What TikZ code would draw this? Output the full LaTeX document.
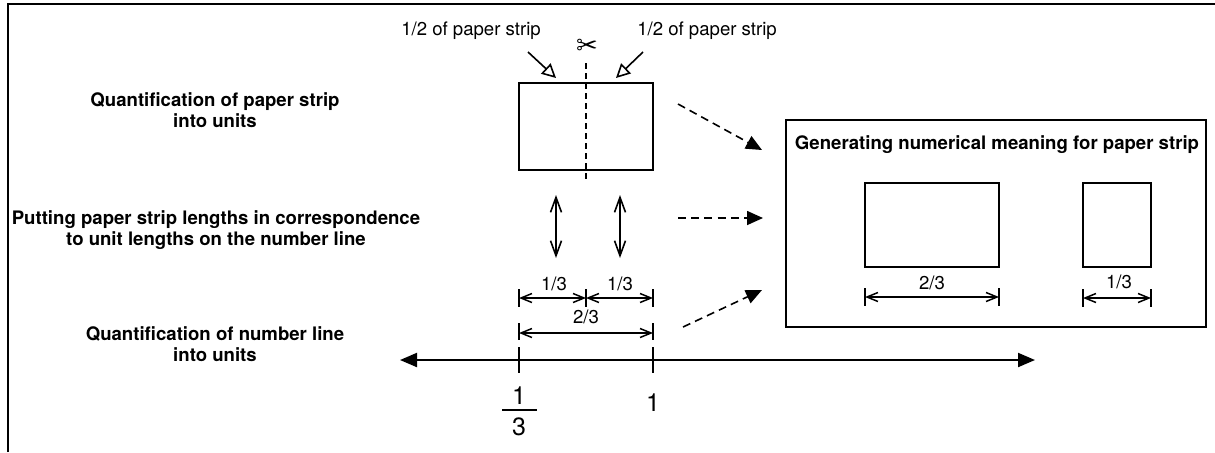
\documentclass[tikz,border=0pt]{standalone}
\usepackage{fontspec}
\setmainfont{TeX Gyre Heros}
\newfontfamily\symfont{DejaVu Sans}
\usetikzlibrary{arrows.meta}

\begin{document}
\begin{tikzpicture}[x=0.5pt,y=-0.5pt,
  txt/.style={font=\fontsize{9.3}{10.5}\selectfont, inner sep=0pt},
  head/.style={font=\fontsize{9.3}{10.5}\selectfont\bfseries, align=center, inner sep=0pt},
  num/.style={font=\fontsize{12.5}{13}\selectfont, inner sep=0pt},
  frameline/.style={line width=1.2pt},
  strip/.style={draw, line width=0.8pt, inner sep=0pt},
  cut/.style={line width=0.75pt, dash pattern=on 3pt off 2pt},
  hollow/.style={line width=0.8pt, -{Triangle[open,length=7pt,width=7pt]}},
  dimline/.style={line width=0.75pt, {Straight Barb[length=5.5pt,width=4.5pt]}-{Straight Barb[length=5.5pt,width=4.5pt]}},
  corr/.style={line width=0.8pt, {Straight Barb[length=7.5pt,width=5.5pt]}-{Straight Barb[length=7.5pt,width=5.5pt]}},
  tickline/.style={line width=0.9pt},
  flow/.style={line width=0.8pt, dash pattern=on 4pt off 2.6pt, -{Triangle[length=8pt,width=7pt]}},
  numline/.style={line width=1pt, {Triangle[length=8.5pt,width=7pt]}-{Triangle[length=8.5pt,width=7pt]}}
]
\useasboundingbox (0,0) rectangle (1215,452);

% outer frame (top and left edges)
\coordinate (fTL) at (7.7,3.7);
\coordinate (fTR) at (1215,3.7);
\coordinate (fBL) at (7.7,452);
\draw[frameline] (fBL) -- (fTL) -- (fTR);

% row labels
\node[head] (lab1) at (215,110) {Quantification of paper strip\\into units};
\node[head] (lab2) at (216,230) {Putting paper strip lengths in correspondence\\to unit lengths on the number line};
\node[head] (lab3) at (215,344) {Quantification of number line\\into units};

% the paper strip, cut in half
\node[strip, minimum width=67pt, minimum height=43.5pt] (paper) at (586,126.5) {};
\coordinate (cutT) at (586,63);
\coordinate (cutB) at (586,181);
\draw[cut] (cutT) -- (cutB);
\node[font=\symfont\fontsize{13}{13}\selectfont, inner sep=0pt] (scis) at (587,47) {✂};

\node[txt] (halfL) at (471,31) {1/2 of paper strip};
\node[txt] (halfR) at (707,31) {1/2 of paper strip};
\coordinate (hLa) at (528,52);
\coordinate (hLb) at (556,78);
\coordinate (hRa) at (643,52);
\coordinate (hRb) at (616,78);
\draw[hollow] (hLa) -- (hLb);
\draw[hollow] (hRa) -- (hRb);

% correspondence arrows
\coordinate (c1T) at (556,195);
\coordinate (c1B) at (556,258);
\coordinate (c2T) at (620,195);
\coordinate (c2B) at (620,258);
\draw[corr] (c1T) -- (c1B);
\draw[corr] (c2T) -- (c2B);

% unit lengths
\coordinate (uA) at (519,298);
\coordinate (uM) at (586,298);
\coordinate (uB) at (653,298);
\draw[dimline] (uA) -- (uM);
\draw[dimline] (uM) -- (uB);
\foreach \p in {uA,uM,uB}
  \draw[tickline] ([yshift=4.5pt]\p) -- ([yshift=-4.5pt]\p);
\node[txt] (u1) at (554,284) {1/3};
\node[txt] (u2) at (620,284) {1/3};

\coordinate (wA) at (519,333);
\coordinate (wB) at (653,333);
\draw[dimline] (wA) -- (wB);
\foreach \p in {wA,wB}
  \draw[tickline] ([yshift=5pt]\p) -- ([yshift=-3.5pt]\p);
\node[txt] (w1) at (586,317) {2/3};

% number line
\coordinate (nL) at (400,360);
\coordinate (nR) at (1035,360);
\draw[numline] (nL) -- (nR);
\coordinate (t1) at (519,360);
\coordinate (t2) at (653,360);
\foreach \p in {t1,t2}
  \draw[tickline] ([yshift=6.5pt]\p) -- ([yshift=-6.5pt]\p);
\node[num] (fn) at (519,396) {1};
\node[num] (fd) at (519,427) {3};
\coordinate (barL) at (502,410);
\coordinate (barR) at (537,410);
\draw[line width=0.8pt] (barL) -- (barR);
\node[num] (one) at (653,403) {1};

% flows into the result panel
\coordinate (a1s) at (678,104);
\coordinate (a1e) at (762,150);
\coordinate (a2s) at (678,218);
\coordinate (a2e) at (763,218);
\coordinate (a3s) at (683,327);
\coordinate (a3e) at (762,290);
\draw[flow] (a1s) -- (a1e);
\draw[flow] (a2s) -- (a2e);
\draw[flow] (a3s) -- (a3e);

% result panel
\node[strip, minimum width=210pt, minimum height=103.5pt] (panel) at (996,223.5) {};
\node[head] (ptitle) at (997,145) {Generating numerical meaning for paper strip};
\node[strip, minimum width=67pt, minimum height=42pt] (big) at (932,225) {};
\node[strip, minimum width=34pt, minimum height=42pt] (small) at (1117,225) {};

\coordinate (bA) at (865,297);
\coordinate (bB) at (999,297);
\draw[dimline] (bA) -- (bB);
\foreach \p in {bA,bB}
  \draw[tickline] ([yshift=4.5pt]\p) -- ([yshift=-4.5pt]\p);
\node[txt] (bl) at (932,283) {2/3};

\coordinate (sA) at (1083,298);
\coordinate (sB) at (1151,298);
\draw[dimline] (sA) -- (sB);
\foreach \p in {sA,sB}
  \draw[tickline] ([yshift=4.5pt]\p) -- ([yshift=-4.5pt]\p);
\node[txt] (sl) at (1119,282) {1/3};
\end{tikzpicture}
\end{document}
